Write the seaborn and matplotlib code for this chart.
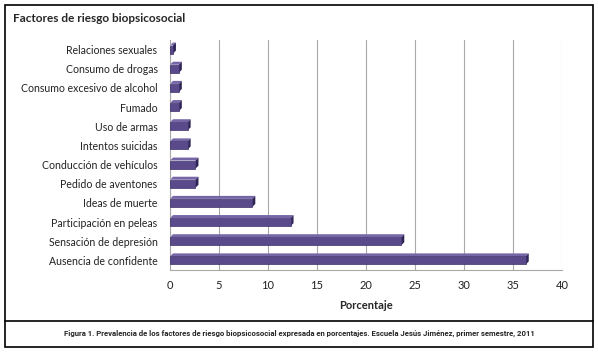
import matplotlib
matplotlib.use("Agg")
import matplotlib.pyplot as plt
from matplotlib.patches import Rectangle, Polygon
import pandas as pd
import seaborn as sns

factores = ["Relaciones sexuales", "Consumo de drogas", "Consumo excesivo de alcohol",
            "Fumado", "Uso de armas", "Intentos suicidas", "Conducción de vehículos",
            "Pedido de aventones", "Ideas de muerte", "Participación en peleas",
            "Sensación de depresión", "Ausencia de confidente"]
porcentaje = [0.3, 0.9, 0.9, 0.9, 1.8, 1.8, 2.6, 2.6, 8.4, 12.3, 23.6, 36.3]
xticks = [0, 5, 10, 15, 20, 25, 30, 35, 40]

df = pd.DataFrame({"factor": factores, "pct": porcentaje})

sns.set_style("white")
plt.rcParams["font.family"] = ["Lato", "DejaVu Sans"]

fig = plt.figure(figsize=(5.98, 3.52), dpi=100)
ax = fig.add_axes([170 / 598, 1 - 270 / 352, 392 / 598, 230 / 352])

sns.barplot(data=df, y="factor", x="pct", orient="h", color="#5a4a8c",
            saturation=1, width=0.42, edgecolor="#3c3068", linewidth=0.5, ax=ax, zorder=3)

ax.set_xlim(0, 40)
ax.set_ylim(len(factores) - 0.5, -0.5)
fig.canvas.draw()

# fake depth: a lighter top face and a dark end face for every bar
d = 3
inv = ax.transData.inverted()
for p in list(ax.patches):
    x0, y0 = p.get_x(), p.get_y()
    x1, y1 = x0 + p.get_width(), y0 + p.get_height()
    (ax0, ay0), (ax1, ay1) = ax.transData.transform([(x0, y0), (x1, y1)])
    top = max(ay0, ay1)
    bot = min(ay0, ay1)
    top_face = [(ax0, top), (ax1, top), (ax1 + d, top + d), (ax0 + d, top + d)]
    end_face = [(ax1, bot), (ax1 + d, bot + d), (ax1 + d, top + d), (ax1, top)]
    ax.add_patch(Polygon(inv.transform(top_face), closed=True, facecolor="#7666a8",
                         edgecolor="none", zorder=2.5))
    ax.add_patch(Polygon(inv.transform(end_face), closed=True, facecolor="#2f2556",
                         edgecolor="none", zorder=2.5))

ax.set_xticks(xticks)
ax.set_xticklabels([str(t) for t in xticks], fontsize=8, color="#222222")
ax.tick_params(axis="y", labelsize=7.6, length=0, pad=9, colors="#222222")
ax.tick_params(axis="x", length=0, pad=7)
for t in xticks:
    ax.axvline(t, color="#a8a8a8", lw=0.8, zorder=1)
for s in ["top", "right"]:
    ax.spines[s].set_visible(False)
ax.spines["left"].set_color("#a8a8a8")
ax.spines["bottom"].set_color("#a8a8a8")
ax.set_ylabel("")
ax.set_xlabel("Porcentaje", fontsize=8, fontweight="bold", labelpad=7)

fig.text(13 / 598, 1 - 18 / 352, "Factores de riesgo biopsicosocial", fontsize=8.5,
         fontweight="bold", va="center", ha="left")
fig.text(0.5, 1 - 333 / 352,
         "Figura 1. Prevalencia de los factores de riesgo biopsicosocial expresada en porcentajes. "
         "Escuela Jesús Jiménez, primer semestre, 2011",
         fontsize=5.6, fontweight="bold", ha="center", va="center",
         family=["Roboto", "DejaVu Sans"])

# outer frame and caption separator
fig.add_artist(Rectangle((5 / 598, 5 / 352), 588 / 598, 342 / 352, transform=fig.transFigure,
                         fill=False, edgecolor="black", lw=1.2))
fig.add_artist(plt.Line2D([5 / 598, 593 / 598], [1 - 321 / 352, 1 - 321 / 352],
                          transform=fig.transFigure, color="black", lw=1.2))

fig.savefig("out.png", dpi=100)
